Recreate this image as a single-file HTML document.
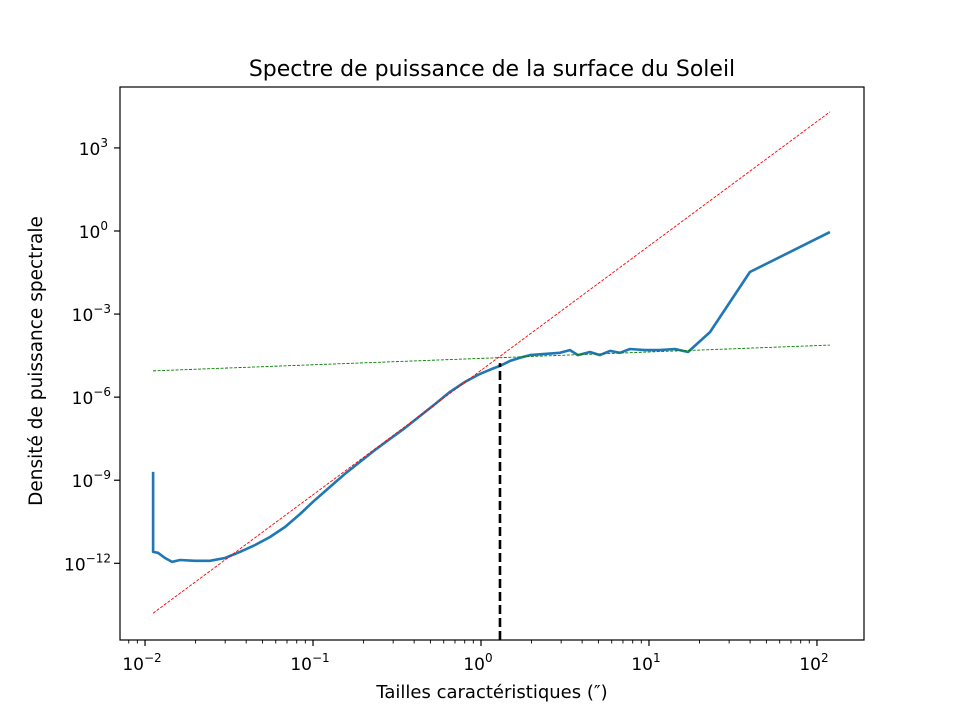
<!DOCTYPE html>
<html><head><meta charset="utf-8"><style>
body{margin:0;background:#fff;}
svg{display:block;font-family:"DejaVu Sans","Liberation Sans",sans-serif;}
</style></head><body>
<svg id="chart" width="960" height="720">
<rect width="960" height="720" fill="#fff"/>
<text x="492" y="76" font-size="22" text-anchor="middle">Spectre de puissance de la surface du Soleil</text>
<text x="492" y="698" font-size="18" text-anchor="middle">Tailles caractéristiques (″)</text>
<text transform="translate(42,361) rotate(-90)" font-size="18.5" text-anchor="middle">Densité de puissance spectrale</text>
<g id="ticks"></g>
<g id="plot"></g>
<rect x="120" y="87" width="744" height="553" fill="none" stroke="#000" stroke-width="1.2"/>
</svg>
<script>
const logX = [-1.952,-1.952,-1.923,-1.881,-1.839,-1.792,-1.702,-1.613,-1.524,-1.435,-1.345,-1.256,-1.167,-1.077,-1.000,-0.899,-0.810,-0.720,-0.631,-0.542,-0.452,-0.363,-0.274,-0.185,-0.095,-0.006,0.065,0.113,0.173,0.232,0.292,0.381,0.470,0.530,0.577,0.649,0.708,0.768,0.827,0.887,0.976,1.065,1.155,1.232,1.363,1.601,2.077];
const logY = [-8.70,-11.59,-11.62,-11.81,-11.95,-11.88,-11.91,-11.91,-11.81,-11.59,-11.34,-11.05,-10.69,-10.22,-9.78,-9.24,-8.77,-8.34,-7.91,-7.51,-7.11,-6.68,-6.25,-5.81,-5.45,-5.16,-4.98,-4.87,-4.69,-4.58,-4.48,-4.44,-4.40,-4.30,-4.48,-4.37,-4.48,-4.33,-4.40,-4.26,-4.30,-4.30,-4.26,-4.37,-3.65,-1.48,-0.04];
const redFit = [4.493, -5.032];
const greenFit = [0.231, -4.60];
const fitRange = [-1.952, 2.077];
const cutoff = [0.113, -4.77];
const xTickExp = [-2,-1,0,1,2];
const yTickExp = [3,0,-3,-6,-9,-12];
const xlim=[-2.149,2.280], ylim=[-14.77,5.2];
const X=v=>120+(v-xlim[0])/(xlim[1]-xlim[0])*744;
const Y=v=>640-(v-ylim[0])/(ylim[1]-ylim[0])*553;
const NS="http://www.w3.org/2000/svg";
function mk(tag,attrs,parent){const e=document.createElementNS(NS,tag);for(const k in attrs)e.setAttribute(k,attrs[k]);parent.appendChild(e);return e;}
const T=document.getElementById('ticks'),P=document.getElementById('plot');
for(const e of xTickExp){
  const t=mk('line',{x1:X(e),x2:X(e),y1:640,y2:646,stroke:'#000','stroke-width':1.2},T);
  
  
  const tx=mk('text',{x:X(e)-3,y:670,'font-size':17,'text-anchor':'middle'},T);
  
  
  tx.innerHTML='10<tspan dy="-8" font-size="12">'+(e<0?'−'+(-e):e)+'</tspan>';
}
for(let d=-3;d<=2;d++)for(let m=2;m<=9;m++){
  const v=d+Math.log10(m);if(v<xlim[0]||v>xlim[1])continue;
  const t=mk('line',{x1:X(v),x2:X(v),y1:640,y2:643.5,stroke:'#000','stroke-width':0.9},T);
  
  
}
for(const e of yTickExp){
  const t=mk('line',{x1:114,x2:120,y1:Y(e),y2:Y(e),stroke:'#000','stroke-width':1.2},T);
  
  
  const tx=mk('text',{x:e<0?111:108,y:Y(e)+7,'font-size':17,'text-anchor':'end'},T);
  
  
  tx.innerHTML='10<tspan dy="-8" font-size="12">'+(e<0?'−'+(-e):e)+'</tspan>';
}
let d='';logX.forEach((v,i)=>{d+=(i?'L':'M')+X(v).toFixed(1)+','+Y(logY[i]).toFixed(1);});
const bl=mk('path',{d:d,fill:'none',stroke:'#1f77b4','stroke-width':2.6,'stroke-linejoin':'round'},P);


const r=mk('line',{x1:X(fitRange[0]),y1:Y(redFit[0]*fitRange[0]+redFit[1]),x2:X(fitRange[1]),y2:Y(redFit[0]*fitRange[1]+redFit[1]),stroke:'#ff0000','stroke-width':0.9,'stroke-dasharray':'3,1.5'},P);


const g=mk('line',{x1:X(fitRange[0]),y1:Y(greenFit[0]*fitRange[0]+greenFit[1]),x2:X(fitRange[1]),y2:Y(greenFit[0]*fitRange[1]+greenFit[1]),stroke:'#008000','stroke-width':0.9,'stroke-dasharray':'3,1.5'},P);


const k=mk('line',{x1:X(cutoff[0]),x2:X(cutoff[0]),y1:640,y2:Y(cutoff[1]),stroke:'#000','stroke-width':2.6,'stroke-dasharray':'9,4'},P);


</script>
</body></html>
